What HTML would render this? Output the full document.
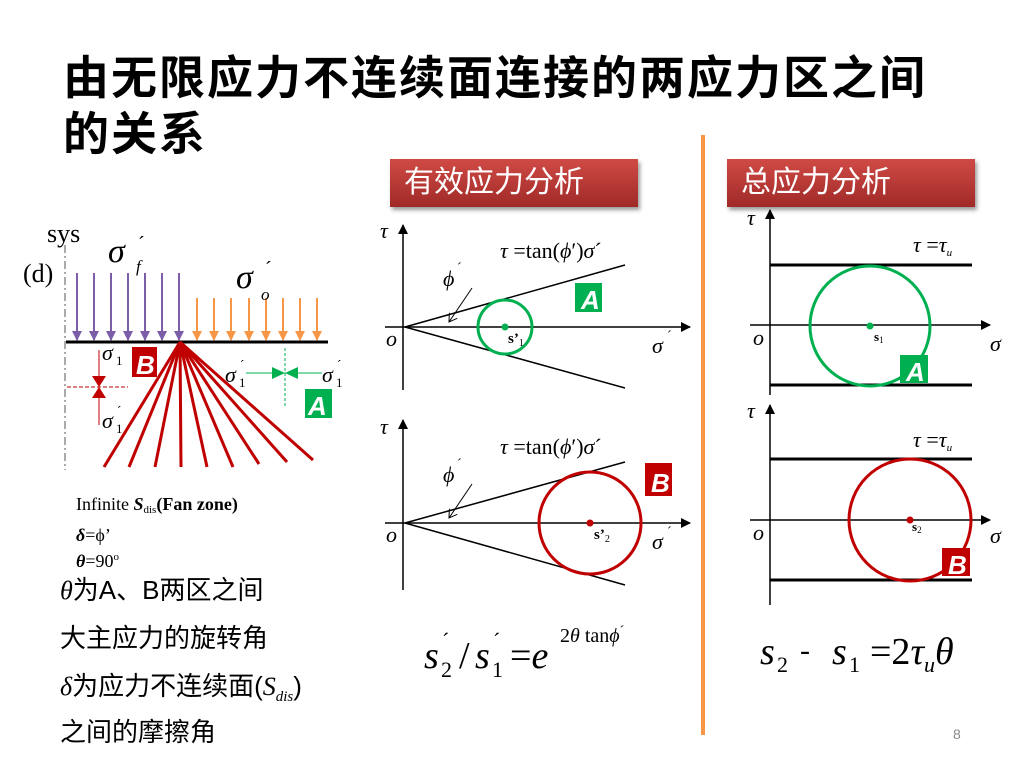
<!DOCTYPE html>
<html><head><meta charset="utf-8"><style>
body{margin:0;width:1024px;height:768px;background:#fff;position:relative;overflow:hidden;font-family:"Liberation Sans","Noto Sans CJK SC",sans-serif}
.t{position:absolute;white-space:nowrap}
.hdr{position:absolute;height:48px;background:linear-gradient(#d04a45,#a02a28);color:#fff;font-size:30px;line-height:48px;padding-left:14px;box-shadow:2px 3px 4px #999;font-family:"Liberation Sans","Noto Sans CJK SC",sans-serif}
</style></head><body>
<div class="t" style="left:63px;top:42px;font-size:46px;font-weight:bold;letter-spacing:2px">由无限应力不连续面连接的两应力区之间</div>
<div class="t" style="left:63px;top:98px;font-size:46px;font-weight:bold;letter-spacing:2px">的关系</div>
<div class="hdr" style="left:390px;top:159px;width:234px">有效应力分析</div>
<div class="hdr" style="left:727px;top:159px;width:234px">总应力分析</div>
<svg width="1024" height="768" style="position:absolute;left:0;top:0" font-family="Liberation Serif,DejaVu Serif,serif">
<defs>
<marker id="ah" markerWidth="10" markerHeight="10" refX="9" refY="5" orient="auto" markerUnits="userSpaceOnUse"><path d="M0,0L10,5L0,10z" fill="#000"/></marker>
<marker id="ap" markerWidth="10" markerHeight="10" refX="9" refY="5" orient="auto" markerUnits="userSpaceOnUse"><path d="M0,0L10,5L0,10z" fill="#7b5ea7"/></marker>
<marker id="ao" markerWidth="10" markerHeight="10" refX="9" refY="5" orient="auto" markerUnits="userSpaceOnUse"><path d="M0,0L10,5L0,10z" fill="#f79646"/></marker>
<marker id="aw" markerWidth="14" markerHeight="10" refX="8" refY="5" orient="auto" markerUnits="userSpaceOnUse"><path d="M0,0L8,5L0,10" fill="none" stroke="#000"/></marker>
</defs>
<line x1="703" y1="135" x2="703" y2="735" stroke="#f79646" stroke-width="4"/>
<line x1="65" y1="245" x2="65" y2="470" stroke="#555" stroke-dasharray="8,3,2,3"/>
<g stroke="#7b5ea7" stroke-width="2" marker-end="url(#ap)">
<line x1="77" y1="273" x2="77" y2="340"/><line x1="94" y1="273" x2="94" y2="340"/><line x1="111" y1="273" x2="111" y2="340"/><line x1="128" y1="273" x2="128" y2="340"/><line x1="145" y1="273" x2="145" y2="340"/><line x1="162" y1="273" x2="162" y2="340"/><line x1="179" y1="273" x2="179" y2="340"/>
</g>
<g stroke="#f79646" stroke-width="2" marker-end="url(#ao)">
<line x1="197" y1="298" x2="197" y2="340"/><line x1="214" y1="298" x2="214" y2="340"/><line x1="231" y1="298" x2="231" y2="340"/><line x1="249" y1="298" x2="249" y2="340"/><line x1="266" y1="298" x2="266" y2="340"/><line x1="283" y1="298" x2="283" y2="340"/><line x1="300" y1="298" x2="300" y2="340"/><line x1="317" y1="298" x2="317" y2="340"/>
</g>
<line x1="66" y1="342" x2="328" y2="342" stroke="#000" stroke-width="3"/>
<g stroke="#c00000" stroke-width="3">
<line x1="180" y1="342" x2="104" y2="467"/><line x1="180" y1="342" x2="129" y2="467"/><line x1="180" y1="342" x2="155" y2="467"/><line x1="180" y1="342" x2="181" y2="467"/><line x1="180" y1="342" x2="207" y2="467"/><line x1="180" y1="342" x2="233" y2="467"/><line x1="180" y1="342" x2="259" y2="464"/><line x1="180" y1="342" x2="287" y2="462"/><line x1="180" y1="342" x2="313" y2="460"/>
</g>
<line x1="99" y1="350" x2="99" y2="425" stroke="#c00000"/>
<line x1="67" y1="387" x2="128" y2="387" stroke="#c00000" stroke-dasharray="4,2"/>
<path d="M92,376L106,376L99,387zM92,398L106,398L99,387z" fill="#c00000"/>
<rect x="132" y="347" width="25" height="30" fill="#c00000"/>
<text x="136" y="374" font-family="Liberation Sans" font-weight="bold" font-style="italic" font-size="26" fill="#fff">B</text>
<line x1="285" y1="348" x2="285" y2="407" stroke="#00b050" stroke-dasharray="3,2"/>
<line x1="246" y1="373" x2="322" y2="373" stroke="#00b050"/>
<path d="M272,367L285,373L272,379zM298,367L285,373L298,379z" fill="#00b050"/>
<rect x="305" y="389" width="27" height="29" fill="#00b050"/>
<text x="308" y="415" font-family="Liberation Sans" font-weight="bold" font-style="italic" font-size="26" fill="#fff">A</text>
<text x="47" y="242" font-size="26">sys</text>
<text x="23" y="282" font-size="26">(d)</text>
<text x="108" y="262" font-size="34" font-style="italic">σ</text><text x="138" y="250" font-size="20">´</text><text x="136" y="272" font-size="17" font-style="italic">f</text>
<text x="236" y="288" font-size="34" font-style="italic">σ</text><text x="265" y="275" font-size="20">´</text><text x="261" y="300" font-size="17" font-style="italic">o</text>
<text x="102" y="360" font-size="22" font-style="italic">σ</text><text x="116" y="365" font-size="13">1</text>
<text x="102" y="428" font-size="22" font-style="italic">σ</text><text x="116" y="433" font-size="13">1</text><text x="117" y="415" font-size="13">´</text>
<text x="225" y="382" font-size="22" font-style="italic">σ</text><text x="239" y="387" font-size="13">1</text><text x="240" y="369" font-size="13">´</text>
<text x="322" y="382" font-size="22" font-style="italic">σ</text><text x="336" y="387" font-size="13">1</text><text x="337" y="369" font-size="13">´</text>
<text x="76" y="510" font-size="18">Infinite <tspan font-weight="bold" font-style="italic">S</tspan><tspan font-size="11" dy="3">dis</tspan><tspan dy="-3" font-weight="bold">(Fan zone)</tspan></text>
<text x="76" y="541" font-size="18"><tspan font-weight="bold" font-style="italic">δ</tspan>=ϕ’</text>
<text x="76" y="567" font-size="18"><tspan font-weight="bold" font-style="italic">θ</tspan>=90<tspan font-size="11" dy="-7">o</tspan></text>
<g stroke="#000" stroke-width="1.5">
<line x1="403" y1="390" x2="403" y2="225" marker-end="url(#ah)"/>
<line x1="385" y1="327" x2="690" y2="327" marker-end="url(#ah)"/>
<line x1="405" y1="327" x2="625" y2="265"/><line x1="405" y1="327" x2="625" y2="388"/>
<line x1="472" y1="288" x2="449" y2="322" stroke-width="1" marker-end="url(#aw)"/>
<line x1="403" y1="590" x2="403" y2="420" marker-end="url(#ah)"/>
<line x1="385" y1="523" x2="690" y2="523" marker-end="url(#ah)"/>
<line x1="405" y1="523" x2="625" y2="462"/><line x1="405" y1="523" x2="625" y2="585"/>
<line x1="472" y1="484" x2="449" y2="518" stroke-width="1" marker-end="url(#aw)"/>
</g>
<circle cx="505" cy="327" r="27" fill="none" stroke="#00b050" stroke-width="3"/>
<circle cx="505" cy="327" r="3.5" fill="#00b050"/>
<circle cx="590" cy="523" r="51" fill="none" stroke="#c00000" stroke-width="3"/>
<circle cx="590" cy="523" r="3.5" fill="#c00000"/>
<rect x="575" y="283" width="27" height="29" fill="#00b050"/>
<text x="581" y="309" font-family="Liberation Sans" font-weight="bold" font-style="italic" font-size="26" fill="#fff">A</text>
<rect x="645" y="463" width="27" height="33" fill="#c00000"/>
<text x="651" y="492" font-family="Liberation Sans" font-weight="bold" font-style="italic" font-size="26" fill="#fff">B</text>
<g font-size="22">
<text x="380" y="238" font-style="italic">τ</text>
<text x="386" y="346" font-style="italic">o</text>
<text x="652" y="353" font-style="italic">σ</text><text x="667" y="340" font-size="14">´</text>
<text x="500" y="258"><tspan font-style="italic">τ</tspan> =tan(<tspan font-style="italic">ϕ</tspan>′)<tspan font-style="italic">σ</tspan>´</text>
<text x="443" y="286" font-style="italic">ϕ</text><text x="457" y="272" font-size="14">´</text>
<text x="508" y="343" font-size="15" font-weight="bold">s’<tspan font-size="10" font-weight="normal" dy="3">1</tspan></text>
<text x="380" y="434" font-style="italic">τ</text>
<text x="386" y="542" font-style="italic">o</text>
<text x="652" y="549" font-style="italic">σ</text><text x="667" y="536" font-size="14">´</text>
<text x="500" y="454"><tspan font-style="italic">τ</tspan> =tan(<tspan font-style="italic">ϕ</tspan>′)<tspan font-style="italic">σ</tspan>´</text>
<text x="443" y="482" font-style="italic">ϕ</text><text x="457" y="468" font-size="14">´</text>
<text x="594" y="539" font-size="15" font-weight="bold">s’<tspan font-size="10" font-weight="normal" dy="3">2</tspan></text>
</g>
<g stroke="#000" stroke-width="1.5">
<line x1="770" y1="395" x2="770" y2="210" marker-end="url(#ah)"/>
<line x1="750" y1="325" x2="990" y2="325" marker-end="url(#ah)"/>
<line x1="770" y1="605" x2="770" y2="405" marker-end="url(#ah)"/>
<line x1="750" y1="520" x2="990" y2="520" marker-end="url(#ah)"/>
</g>
<g stroke="#000" stroke-width="3">
<line x1="770" y1="265" x2="972" y2="265"/><line x1="770" y1="385" x2="972" y2="385"/>
<line x1="770" y1="459" x2="972" y2="459"/><line x1="770" y1="580" x2="972" y2="580"/>
</g>
<circle cx="870" cy="326" r="60" fill="none" stroke="#00b050" stroke-width="3"/>
<circle cx="870" cy="326" r="3.5" fill="#00b050"/>
<circle cx="910" cy="520" r="61" fill="none" stroke="#c00000" stroke-width="3"/>
<circle cx="910" cy="520" r="3.5" fill="#c00000"/>
<rect x="900" y="355" width="28" height="28" fill="#00b050"/>
<text x="906" y="381" font-family="Liberation Sans" font-weight="bold" font-style="italic" font-size="26" fill="#fff">A</text>
<rect x="942" y="548" width="28" height="28" fill="#c00000"/>
<text x="948" y="574" font-family="Liberation Sans" font-weight="bold" font-style="italic" font-size="26" fill="#fff">B</text>
<g font-size="22">
<text x="747" y="225" font-style="italic">τ</text>
<text x="753" y="345" font-style="italic">o</text>
<text x="990" y="351" font-style="italic">σ</text>
<text x="913" y="252"><tspan font-style="italic">τ</tspan> =<tspan font-style="italic">τ</tspan><tspan font-size="11" font-style="italic" dy="4">u</tspan></text>
<text x="874" y="341" font-size="13" font-weight="bold">s<tspan font-size="9" font-weight="normal" dy="2">1</tspan></text>
<text x="747" y="418" font-style="italic">τ</text>
<text x="753" y="540" font-style="italic">o</text>
<text x="990" y="543" font-style="italic">σ</text>
<text x="913" y="447"><tspan font-style="italic">τ</tspan> =<tspan font-style="italic">τ</tspan><tspan font-size="11" font-style="italic" dy="4">u</tspan></text>
<text x="912" y="531" font-size="13" font-weight="bold">s<tspan font-size="9" font-weight="normal" dy="2">2</tspan></text>
</g>
<text x="424" y="668" font-size="38" font-style="italic">s</text><text x="441" y="677" font-size="22">2</text><text x="442" y="648" font-size="22">´</text>
<text x="459" y="668" font-size="38">/</text>
<text x="475" y="668" font-size="38" font-style="italic">s</text><text x="492" y="677" font-size="22">1</text><text x="493" y="648" font-size="22">´</text>
<text x="510" y="668" font-size="38">=<tspan font-style="italic">e</tspan></text>
<text x="560" y="642" font-size="20">2<tspan font-style="italic">θ</tspan> tan<tspan font-style="italic">ϕ</tspan><tspan font-size="14" dy="-7">´</tspan></text>
<text x="760" y="664" font-size="38" font-style="italic">s</text><text x="777" y="672" font-size="22">2</text>
<text x="800" y="660" font-size="30">-</text>
<text x="832" y="664" font-size="38" font-style="italic">s</text><text x="849" y="672" font-size="22">1</text>
<text x="870" y="664" font-size="38">=2<tspan font-style="italic">τ</tspan><tspan font-size="22" font-style="italic" dy="8">u</tspan><tspan font-style="italic" dy="-8">θ</tspan></text>
</svg>
<div class="t" style="left:60px;top:570px;font-size:26px"><i style="font-family:'Liberation Serif'">θ</i>为A、B两区之间</div>
<div class="t" style="left:60px;top:618px;font-size:26px">大主应力的旋转角</div>
<div class="t" style="left:60px;top:666px;font-size:26px"><i style="font-family:'Liberation Serif'">δ</i>为应力不连续面(<i style="font-family:'Liberation Serif'">S<sub style="font-size:15px">dis</sub></i>)</div>
<div class="t" style="left:60px;top:712px;font-size:26px">之间的摩擦角</div>
<div class="t" style="left:953px;top:726px;font-size:14px;color:#888">8</div>
</body></html>
